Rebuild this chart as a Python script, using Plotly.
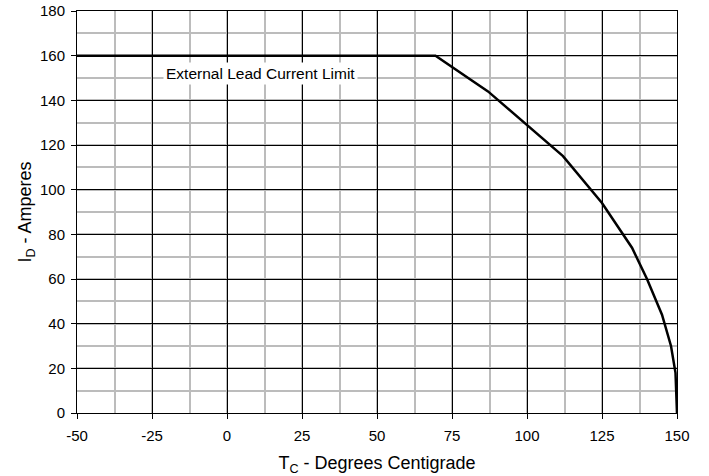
import plotly.graph_objects as go

temp_c = [-50, 69.5, 87, 100, 112, 125, 131, 135, 140, 145, 148, 149.5, 150]
current_a = [160, 160, 144, 129, 115, 94, 82, 74, 60, 44, 30, 18, 0]

x_ticks = [-50, -25, 0, 25, 50, 75, 100, 125, 150]
x_tick_text = ["-50", "-25", "0", "25", "50", "75", "100", "125", "150"]
y_ticks = [0, 20, 40, 60, 80, 100, 120, 140, 160, 180]

label_text = "External Lead Current Limit"
label_x = 11
label_y = 152

fig = go.Figure()
fig.add_trace(go.Scatter(x=temp_c, y=current_a, mode="lines",
                         line=dict(color="black", width=2.5), showlegend=False))

fig.add_annotation(x=label_x, y=label_y, text=label_text, showarrow=False,
                   bgcolor="white", font=dict(size=15.5, color="black"),
                   borderpad=2)

axis_common = dict(
    showline=True, linecolor="black", linewidth=1, mirror=True,
    ticks="outside", ticklen=5, tickcolor="black",
    showgrid=True, gridcolor="black", gridwidth=1,
    zeroline=False, automargin=False,
    tickfont=dict(size=15, color="black"),
)

fig.update_xaxes(range=[-50, 150], tickvals=x_ticks, ticktext=x_tick_text,
                 ticklabelstandoff=4,
                 minor=dict(dtick=12.5, tick0=-50, showgrid=True, gridcolor="#bcbcbc", gridwidth=1.5),
                 title=dict(text="T<sub>C</sub> - Degrees Centigrade", font=dict(size=18, color="black"), standoff=13),
                 **axis_common)
fig.update_yaxes(range=[0, 180], tickvals=y_ticks,
                 ticklabelstandoff=3,
                 minor=dict(dtick=10, tick0=0, showgrid=True, gridcolor="#bcbcbc", gridwidth=1.5),
                 title=dict(text="I<sub>D</sub> - Amperes", font=dict(size=18, color="black"), standoff=3),
                 **axis_common)

fig.update_layout(
    width=709, height=476,
    margin=dict(l=77, r=32, t=11, b=63),
    plot_bgcolor="white", paper_bgcolor="white",
    font=dict(family="Liberation Sans, Arial, sans-serif", color="black"),
)

fig.write_html("out.html", config={"displayModeBar": False},
               post_script="document.body.style.margin='0';")
